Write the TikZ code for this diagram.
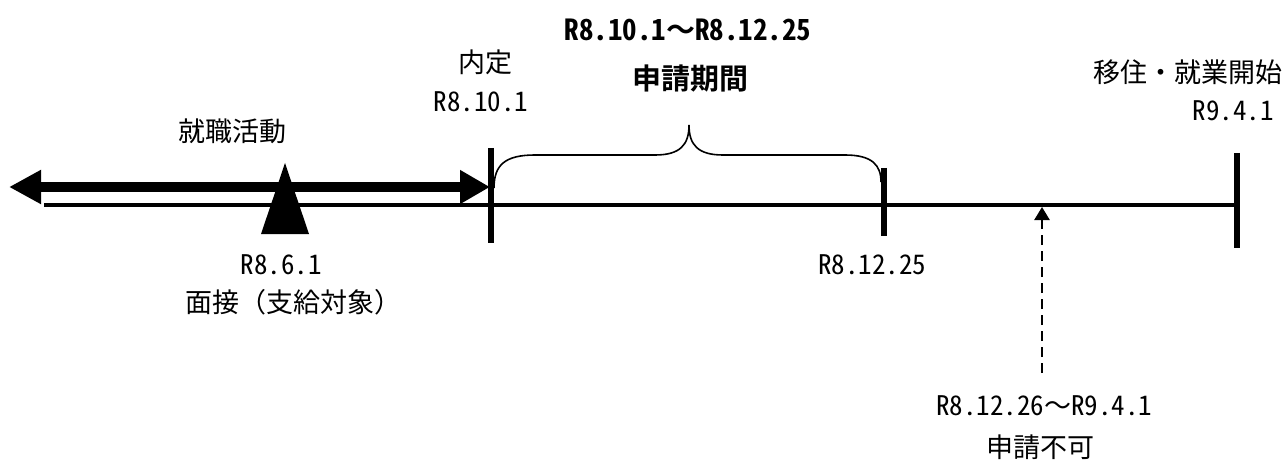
\documentclass[tikz,border=0pt]{standalone}
\usepackage{fontspec}
\setmainfont{Noto Sans CJK JP}[BoldFont={Noto Sans CJK JP Bold},RawFeature=+hwid]
\newfontfamily\zenkaku{Noto Sans CJK JP}[BoldFont={Noto Sans CJK JP Bold}]
\usetikzlibrary{arrows.meta}
\begin{document}
\begin{tikzpicture}[x=1pt, y=-1pt,
  lbl/.style={inner sep=0pt, font=\fontsize{27}{30}\selectfont},
  ttl/.style={inner sep=0pt, font=\fontsize{29}{32}\selectfont\bfseries},
  tick/.style={line width=5.5pt},
  axis/.style={line width=3.2pt}]
\useasboundingbox (0,0) rectangle (1287,465);
% time axis
\coordinate (ax0) at (44,205);
\coordinate (ax1) at (1237,205);
\draw[axis](ax0) -- (ax1);
% ticks
\coordinate (naiteiA) at (491,148);
\coordinate (naiteiB) at (491,243);
\draw[tick](naiteiA) -- (naiteiB);
\coordinate (shimeA) at (884,168);
\coordinate (shimeB) at (884,236);
\draw[tick](shimeA) -- (shimeB);
\coordinate (ijuA) at (1237,153);
\coordinate (ijuB) at (1237,248);
\draw[tick](ijuA) -- (ijuB);
% job hunting
\coordinate (katsu0) at (9,187);
\coordinate (katsu1) at (490,187);
\draw[line width=10pt, {Triangle[length=32pt,width=32pt]}-{Triangle[length=30pt,width=32pt]}](katsu0) -- (katsu1);
\fill (285,163) -- (309,234) -- (261,234) -- cycle;
% brace
\draw[line width=1.6pt] (494,188) .. controls (494,165) and (505,155) .. (535,155)
  -- (655,155) .. controls (680,155) and (689,145) .. (689,125)
  .. controls (689,145) and (698,155) .. (723,155)
  -- (845,155) .. controls (872,155) and (881,165) .. (881,182);
% not allowed
\coordinate (fukaA) at (1042,373);
\coordinate (fukaB) at (1042,207);
\draw[line width=2.5pt, dash pattern=on 10pt off 6pt, -{Triangle[length=13pt,width=15pt]}](fukaA) -- (fukaB);
% labels
\node[lbl] (shushoku) at (232,131){就職活動};
\node[lbl] (naitei) at (485,62){内定};
\node[lbl] (naiteiday) at (481,102){R8.10.1};
\node[ttl] (kikanday) at (688,30){R8.10.1{\zenkaku ～}R8.12.25};
\node[ttl] (kikan) at (690,79){申請期間};
\node[lbl] (iju) at (1188,72){移住・就業開始};
\node[lbl] (ijuday) at (1233,111){R9.4.1};
\node[lbl] (mensetsuday) at (281,265){R8.6.1};
\node[lbl] (mensetsu) at (293,302){{\zenkaku 面接（支給対象）}};
\node[lbl] (shimeday) at (872,265){R8.12.25};
\node[lbl] (fukaday) at (1044,406){R8.12.26{\zenkaku ～}R9.4.1};
\node[lbl] (fuka) at (1040,447){申請不可};
\end{tikzpicture}
\end{document}
